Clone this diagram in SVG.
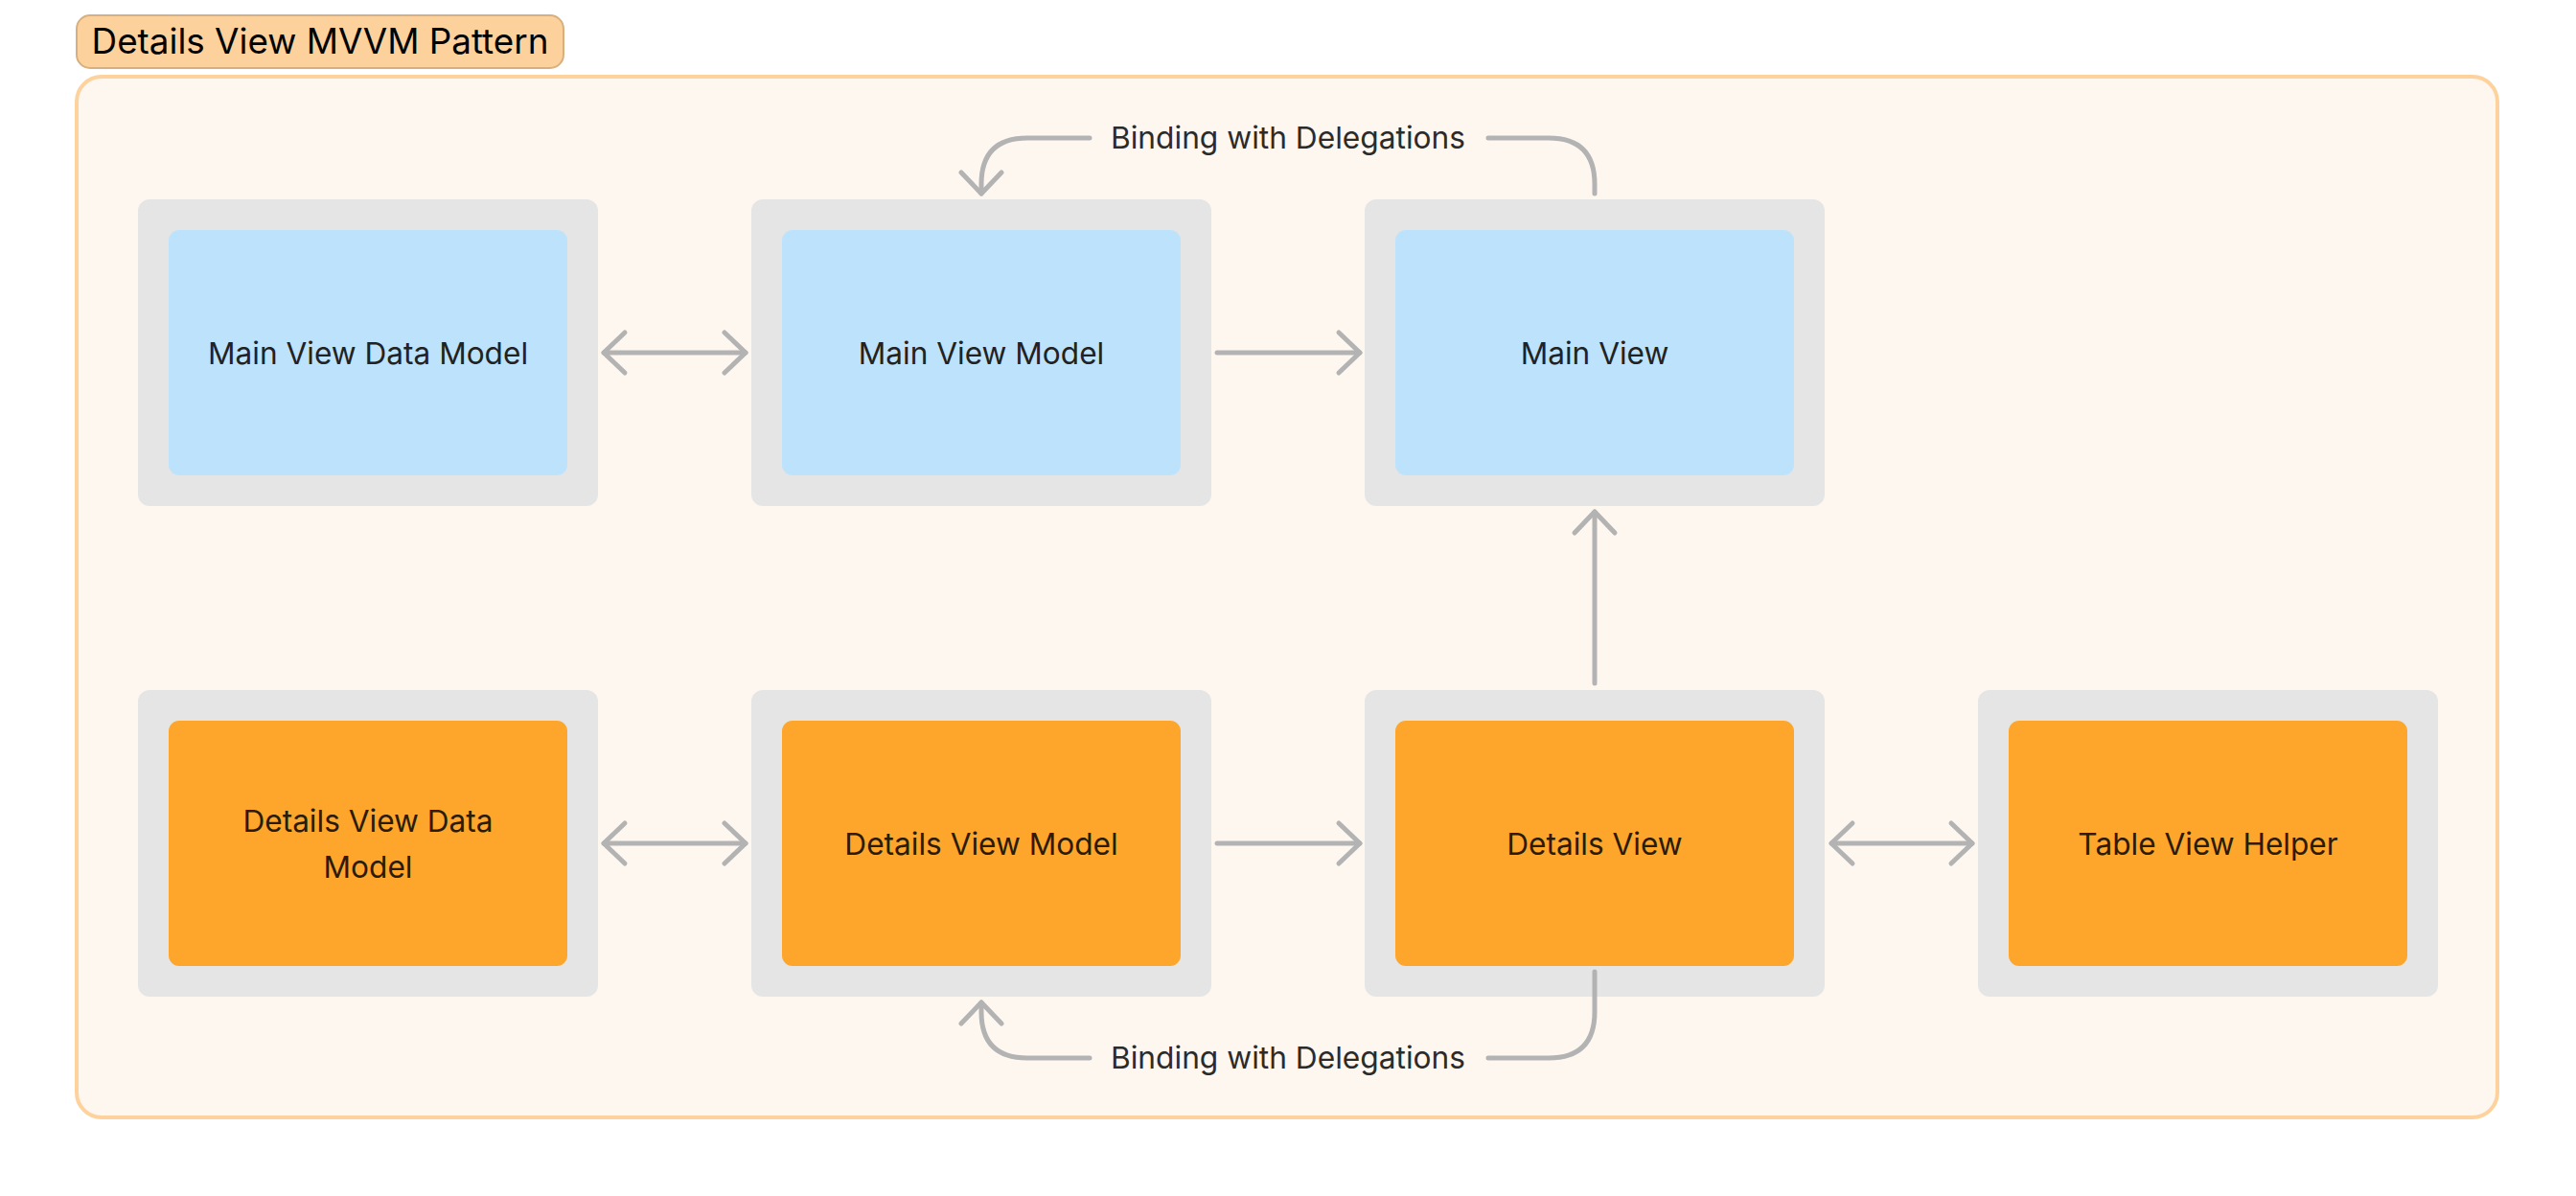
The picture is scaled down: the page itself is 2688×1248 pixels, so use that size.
<svg xmlns="http://www.w3.org/2000/svg" width="2688" height="1248" viewBox="0 0 2688 1248">
<style>
.frame{fill:#E5E5E5}
.blue{fill:#BDE3FC}
.orange{fill:#FEA62B}
.lbl{font-family:Inter,"Liberation Sans",sans-serif;font-size:31.6px;fill:#222222;text-anchor:middle}
.olbl{fill:#2A1C08}
.clbl{font-family:Inter,"Liberation Sans",sans-serif;font-size:31.7px;fill:#2B2B2B;text-anchor:middle}
.conn{fill:none;stroke:#B3B3B3;stroke-width:5;stroke-linecap:round;stroke-linejoin:round}
</style>
<defs>
<marker id="ah" markerUnits="userSpaceOnUse" viewBox="-30 -30 40 60" refX="0" refY="0" markerWidth="40" markerHeight="60" orient="auto-start-reverse" overflow="visible">
<path d="M-22,-21 L0,0 L-22,21" fill="none" stroke="#B3B3B3" stroke-width="5" stroke-linecap="round" stroke-linejoin="round"/>
</marker>
</defs>
<rect width="2688" height="1248" fill="#FFFFFF"/>
<g id="container">
<rect x="80" y="80" width="2526" height="1086" rx="26" fill="#FEF7F0" stroke="#FDD29C" stroke-width="4"/>
</g>
<g id="title">
<rect x="80" y="16" width="508" height="55" rx="14" fill="#FCD19C" stroke="#D8AF7E" stroke-width="2"/>
<text x="334" y="56" font-family="Inter,'Liberation Sans',sans-serif" font-size="36.8" fill="#000000" text-anchor="middle">Details View MVVM Pattern</text>
</g>
<g id="main-view-data-model">
<rect class="frame" x="144" y="208" width="480" height="320" rx="12"/>
<rect class="blue" x="176" y="240" width="416" height="256" rx="11"/>
<text class="lbl" x="384" y="380">Main View Data Model</text>
</g>
<g id="main-view-model">
<rect class="frame" x="784" y="208" width="480" height="320" rx="12"/>
<rect class="blue" x="816" y="240" width="416" height="256" rx="11"/>
<text class="lbl" x="1024" y="380">Main View Model</text>
</g>
<g id="main-view">
<rect class="frame" x="1424" y="208" width="480" height="320" rx="12"/>
<rect class="blue" x="1456" y="240" width="416" height="256" rx="11"/>
<text class="lbl" x="1664" y="380">Main View</text>
</g>
<g id="details-view-data-model">
<rect class="frame" x="144" y="720" width="480" height="320" rx="12"/>
<rect class="orange" x="176" y="752" width="416" height="256" rx="11"/>
<text class="lbl olbl" x="384" y="868">Details View Data</text>
<text class="lbl olbl" x="384" y="916">Model</text>
</g>
<g id="details-view-model">
<rect class="frame" x="784" y="720" width="480" height="320" rx="12"/>
<rect class="orange" x="816" y="752" width="416" height="256" rx="11"/>
<text class="lbl olbl" x="1024" y="892">Details View Model</text>
</g>
<g id="details-view">
<rect class="frame" x="1424" y="720" width="480" height="320" rx="12"/>
<rect class="orange" x="1456" y="752" width="416" height="256" rx="11"/>
<text class="lbl olbl" x="1664" y="892">Details View</text>
</g>
<g id="table-view-helper">
<rect class="frame" x="2064" y="720" width="480" height="320" rx="12"/>
<rect class="orange" x="2096" y="752" width="416" height="256" rx="11"/>
<text class="lbl olbl" x="2304" y="892">Table View Helper</text>
</g>
<g id="connectors">
<path class="conn" d="M630,368 H778" marker-start="url(#ah)" marker-end="url(#ah)"/>
<path class="conn" d="M1270,368 H1419" marker-end="url(#ah)"/>
<path class="conn" d="M630,880 H778" marker-start="url(#ah)" marker-end="url(#ah)"/>
<path class="conn" d="M1270,880 H1419" marker-end="url(#ah)"/>
<path class="conn" d="M1911,880 H2058" marker-start="url(#ah)" marker-end="url(#ah)"/>
<path class="conn" d="M1664,713 V534" marker-end="url(#ah)"/>
<path class="conn" d="M1137,144 H1072 Q1024,144 1024,192 V202" marker-end="url(#ah)"/>
<path class="conn" d="M1553,144 H1616 Q1664,144 1664,192 V202"/>
<text class="clbl" x="1344" y="155">Binding with Delegations</text>
<path class="conn" d="M1664,1014 V1056 Q1664,1104 1616,1104 H1553"/>
<path class="conn" d="M1137,1104 H1072 Q1024,1104 1024,1056 V1046" marker-end="url(#ah)"/>
<text class="clbl" x="1344" y="1115">Binding with Delegations</text>
</g>
</svg>
